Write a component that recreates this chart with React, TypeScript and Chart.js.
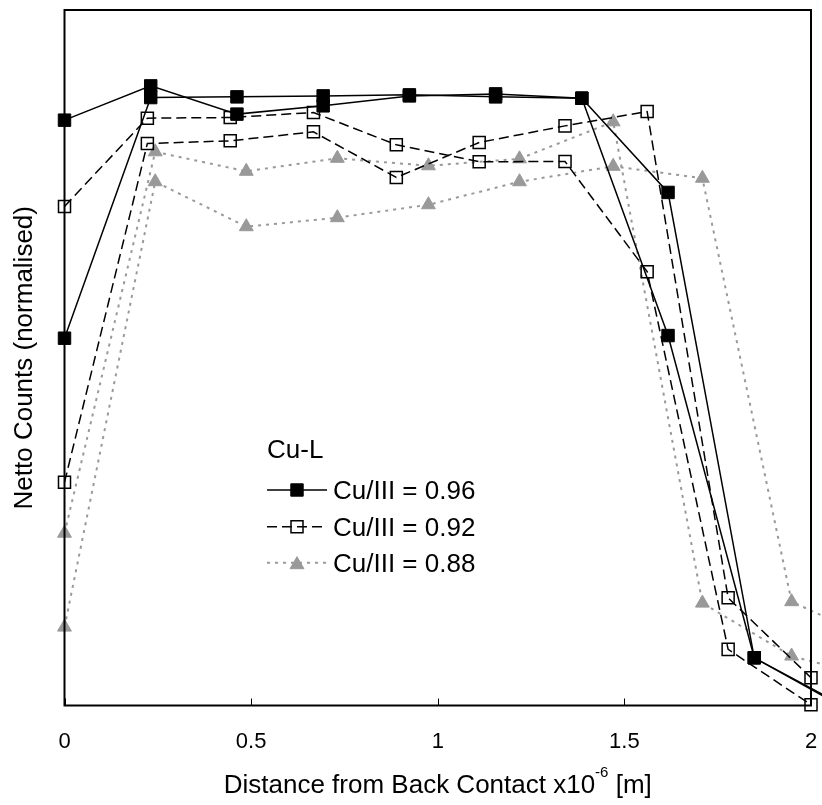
import React, { useEffect, useRef } from 'react';
import { Chart, registerables } from 'chart.js';

Chart.register(...registerables);

const FONT = "'Liberation Sans', Arial, Helvetica, sans-serif";

// ---- axis / text ----
const xTicks = [0, 0.5, 1, 1.5, 2];
const xTitleMain = 'Distance from Back Contact x10';
const xTitleSup = '-6';
const xTitleTail = ' [m]';
const yTitle = 'Netto Counts (normalised)';
const legendTitle = 'Cu-L';
const seriesLabels = ['Cu/III = 0.96', 'Cu/III = 0.92', 'Cu/III = 0.88'];

// ---- x positions (µm) ----
const xFilled = [0, 0.231, 0.462, 0.693, 0.924, 1.155, 1.386, 1.617, 1.848, 2.079];
const xOpen = [0, 0.222, 0.444, 0.667, 0.889, 1.111, 1.341, 1.561, 1.778, 2.0];
const xTri = [0, 0.243, 0.487, 0.731, 0.975, 1.219, 1.47, 1.709, 1.948, 2.19];

// ---- normalised counts ----
// Cu/III = 0.96
const cu096a = [0.8416, 0.8909, 0.8503, 0.8622, 0.8765, 0.8794, 0.8732, 0.7377, 0.0686, 0.002];
const cu096b = [0.5281, 0.8741, 0.8751, 0.8765, 0.878, 0.8751, 0.8732, 0.5319, 0.0686, 0.0];
// Cu/III = 0.92
const cu092a = [0.7176, 0.8445, 0.8454, 0.8526, 0.8062, 0.7818, 0.7822, 0.6238, 0.0807, 0.001];
const cu092b = [0.3209, 0.808, 0.8119, 0.8248, 0.7592, 0.8095, 0.8334, 0.854, 0.1548, 0.0399];
// Cu/III = 0.88
const cu088a = [0.2477, 0.7961, 0.7681, 0.7868, 0.776, 0.7861, 0.8392, 0.1472, 0.0711, 0.0366];
const cu088b = [0.1127, 0.7531, 0.6884, 0.7014, 0.72, 0.7531, 0.7753, 0.7581, 0.1493, 0.0897];

const BLACK = '#000000';
const GREY = '#999999';

const styleA = { color: BLACK, dash: [] as number[], width: 1.5 };
const styleB = { color: BLACK, dash: [10, 5], width: 1.5 };
const styleC = { color: GREY, dash: [3, 5], width: 2 };

function pts(xs: number[], ys: number[]) {
  return xs.map((x, i) => ({ x, y: ys[i] }));
}

function makeA(ys: number[]) {
  return {
    data: pts(xFilled, ys),
    borderColor: BLACK,
    borderWidth: styleA.width,
    borderDash: styleA.dash,
    pointStyle: 'rect',
    pointRadius: 8.8,
    pointBackgroundColor: BLACK,
    pointBorderColor: BLACK,
    pointBorderWidth: 1,
    tension: 0,
    fill: false,
    clip: false,
  };
}
function makeB(ys: number[]) {
  return {
    data: pts(xOpen, ys),
    borderColor: BLACK,
    borderWidth: styleB.width,
    borderDash: styleB.dash,
    pointStyle: 'rect',
    pointRadius: 8.5,
    pointBackgroundColor: 'rgba(0,0,0,0)',
    pointBorderColor: BLACK,
    pointBorderWidth: 1.5,
    tension: 0,
    fill: false,
    clip: false,
  };
}
function makeC(ys: number[]) {
  return {
    data: pts(xTri, ys),
    borderColor: GREY,
    borderWidth: styleC.width,
    borderDash: styleC.dash,
    pointStyle: 'triangle',
    pointRadius: 8,
    pointBackgroundColor: GREY,
    pointBorderColor: GREY,
    pointBorderWidth: 1,
    tension: 0,
    fill: false,
    clip: false,
  };
}

function drawRect(ctx: CanvasRenderingContext2D, x: number, y: number, s: number, filled: boolean) {
  ctx.setLineDash([]);
  ctx.beginPath();
  ctx.rect(x - s / 2, y - s / 2, s, s);
  if (filled) {
    ctx.fillStyle = BLACK;
    ctx.fill();
  }
  ctx.strokeStyle = BLACK;
  ctx.lineWidth = filled ? 1 : 1.5;
  ctx.stroke();
}

function drawTri(ctx: CanvasRenderingContext2D, x: number, y: number, r: number) {
  ctx.setLineDash([]);
  ctx.beginPath();
  ctx.moveTo(x, y - r);
  ctx.lineTo(x + r * 0.866, y + r * 0.5);
  ctx.lineTo(x - r * 0.866, y + r * 0.5);
  ctx.closePath();
  ctx.fillStyle = GREY;
  ctx.fill();
  ctx.strokeStyle = GREY;
  ctx.lineWidth = 1;
  ctx.stroke();
}

const decorPlugin = {
  id: 'decor',
  afterDatasetsDraw(chart: any) {
    const { ctx, chartArea: ca, scales } = chart;
    const xs = scales.x;
    ctx.save();
    ctx.setLineDash([]);
    // frame
    ctx.strokeStyle = BLACK;
    ctx.lineWidth = 2;
    ctx.strokeRect(ca.left, ca.top, ca.right - ca.left, ca.bottom - ca.top);
    // inward ticks
    ctx.lineWidth = 1;
    xTicks.forEach((t) => {
      const px = Math.round(xs.getPixelForValue(t)) + 0.5;
      ctx.beginPath();
      ctx.moveTo(px, ca.bottom);
      ctx.lineTo(px, ca.bottom - 7);
      ctx.stroke();
    });

    // legend
    const lx = ca.left + 202.5;
    ctx.fillStyle = BLACK;
    ctx.font = `26px ${FONT}`;
    ctx.textAlign = 'left';
    ctx.textBaseline = 'alphabetic';
    ctx.fillText(legendTitle, lx, 458.3);
    const rows = [490, 526.7, 562.7];
    const styles = [styleA, styleB, styleC];
    rows.forEach((ry, i) => {
      const st = styles[i];
      ctx.strokeStyle = st.color;
      ctx.lineWidth = st.width;
      ctx.setLineDash(st.dash);
      ctx.beginPath();
      ctx.moveTo(lx, ry);
      ctx.lineTo(lx + 60, ry);
      ctx.stroke();
      if (i === 0) drawRect(ctx, lx + 30, ry, 12.4, true);
      else if (i === 1) drawRect(ctx, lx + 30, ry, 12, false);
      else drawTri(ctx, lx + 30, ry + 2, 8);
      ctx.fillStyle = BLACK;
      ctx.font = `26px ${FONT}`;
      ctx.textAlign = 'left';
      ctx.textBaseline = 'alphabetic';
      ctx.fillText(seriesLabels[i], lx + 66, ry + 9.3);
    });

    // x title with superscript
    ctx.setLineDash([]);
    ctx.fillStyle = BLACK;
    ctx.textAlign = 'left';
    ctx.textBaseline = 'alphabetic';
    ctx.font = `26px ${FONT}`;
    const wMain = ctx.measureText(xTitleMain).width;
    const wTail = ctx.measureText(xTitleTail).width;
    ctx.font = `15px ${FONT}`;
    const wSup = ctx.measureText(xTitleSup).width;
    const cx = (ca.left + ca.right) / 2;
    let sx = cx - (wMain + wSup + wTail) / 2;
    const base = 793;
    ctx.font = `26px ${FONT}`;
    ctx.fillText(xTitleMain, sx, base);
    sx += wMain;
    ctx.font = `15px ${FONT}`;
    ctx.fillText(xTitleSup, sx, base - 16);
    sx += wSup;
    ctx.font = `26px ${FONT}`;
    ctx.fillText(xTitleTail, sx, base);

    // y title
    ctx.save();
    ctx.translate(32, (ca.top + ca.bottom) / 2);
    ctx.rotate(-Math.PI / 2);
    ctx.textAlign = 'center';
    ctx.textBaseline = 'alphabetic';
    ctx.font = `26px ${FONT}`;
    ctx.fillText(yTitle, 0, 0);
    ctx.restore();

    ctx.restore();
  },
};

export default function App() {
  const ref = useRef<HTMLCanvasElement | null>(null);
  useEffect(() => {
    if (!ref.current) return;
    const chart = new Chart(ref.current, {
      type: 'line',
      data: {
        datasets: [
          makeA(cu096a),
          makeA(cu096b),
          makeB(cu092a),
          makeB(cu092b),
          makeC(cu088a),
          makeC(cu088b),
        ] as any,
      },
      options: {
        responsive: false,
        animation: false,
        devicePixelRatio: 1,
        layout: { padding: { left: 64.5, right: 11, top: 9, bottom: 49.5 } },
        plugins: { legend: { display: false }, tooltip: { enabled: false } },
        scales: {
          x: {
            type: 'linear',
            min: 0,
            max: 2,
            afterBuildTicks: (scale: any) => {
              scale.ticks = xTicks.map((v) => ({ value: v }));
            },
            afterFit: (scale: any) => {
              scale.height = 50;
              scale.paddingLeft = 0;
              scale.paddingRight = 0;
              scale.paddingTop = 0;
              scale.paddingBottom = 0;
            },
            ticks: {
              color: BLACK,
              font: { family: FONT, size: 22 },
              padding: 23,
              maxRotation: 0,
              callback: (v: any) => String(v),
            },
            grid: { display: false, drawTicks: false, tickLength: 0 },
            border: { display: false },
          },
          y: {
            type: 'linear',
            min: 0,
            max: 1,
            display: false,
          },
        },
      } as any,
      plugins: [decorPlugin],
    });
    return () => chart.destroy();
  }, []);
  return (
    <div style={{ position: 'fixed', left: 0, top: 0, width: 822, height: 805, background: '#fff' }}>
      <canvas ref={ref} width={822} height={805} style={{ display: 'block' }} />
    </div>
  );
}
